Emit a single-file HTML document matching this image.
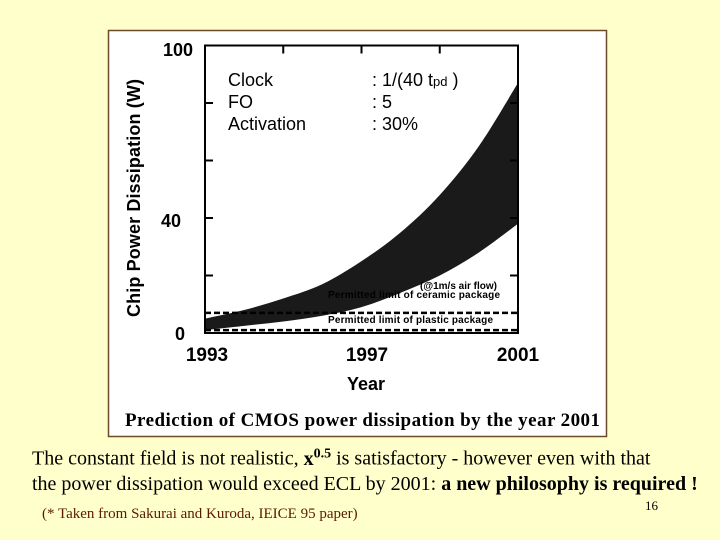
<!DOCTYPE html>
<html><head><meta charset="utf-8"><style>
body{margin:0;width:720px;height:540px;background:#ffffcc;position:relative;overflow:hidden;font-family:"Liberation Serif",serif}
.t{position:absolute;white-space:nowrap;color:#000}
</style></head><body>
<svg width="720" height="540" style="position:absolute;left:0;top:0" xmlns="http://www.w3.org/2000/svg">
<rect x="108.5" y="30.5" width="498" height="406" fill="#fff" stroke="#6b4a2a" stroke-width="1.5"/>
<g id="plot"></g>
<g font-family="Liberation Sans, sans-serif" font-weight="bold" fill="#000">
<text x="163" y="56" font-size="18">100</text>
<text x="161" y="227" font-size="18">40</text>
<text x="175" y="340" font-size="18">0</text>
<text x="207" y="361" font-size="19" text-anchor="middle">1993</text>
<text x="367" y="361" font-size="19" text-anchor="middle">1997</text>
<text x="518" y="361" font-size="19" text-anchor="middle">2001</text>
<text x="366" y="390" font-size="18" text-anchor="middle">Year</text>
<text transform="translate(140,198) rotate(-90)" font-size="18" text-anchor="middle" textLength="238">Chip Power Dissipation (W)</text>
<g font-weight="normal">
<text x="228" y="86" font-size="18">Clock</text>
<text x="228" y="108" font-size="18">FO</text>
<text x="228" y="130" font-size="18">Activation</text>
<text x="372" y="86" font-size="18">: 1/(40 t<tspan font-size="13">pd</tspan>    )</text>
<text x="372" y="108" font-size="18">: 5</text>
<text x="372" y="130" font-size="18">: 30%</text>
</g>
<text x="420" y="289" font-size="10">(@1m/s air flow)</text>
<text x="328" y="298" font-size="10" textLength="172">Permitted limit of ceramic package</text>
<text x="328" y="323" font-size="10" textLength="165">Permitted limit of plastic package</text>
</g>
<text x="125" y="426" font-size="19" font-family="Liberation Serif, serif" font-weight="bold" textLength="475">Prediction of CMOS power dissipation by the year 2001</text>
</svg>
<div class="t" style="left:32px;top:446px;font-size:20px">The constant field is not realistic, <b>x<sup style="font-size:14px">0.5</sup></b> is satisfactory - however even with that</div>
<div class="t" style="left:32px;top:473px;font-size:20px">the power dissipation would exceed ECL by 2001: <b>a new philosophy is required !</b></div>
<div class="t" style="left:42px;top:506px;font-size:15px;color:#5a1a00">(* Taken from Sakurai and Kuroda, IEICE 95 paper)</div>
<div class="t" style="left:645px;top:498px;font-size:13px">16</div>
<script>
const years=[1993,1994,1995,1996,1997,1998,1999,2000,2001];
const upperW=[5,8,12,17,25,35,48,65,87];
const lowerW=[1,2.5,4,6,9,14,20,28,38];
const limitLevels=[7,1];
const yTicks=[0,20,40,60,80,100];
const xTopTicks=[1995,1997,1999];
const X0=205,X1=518,Y0=333,Y1=45.5;
const sx=v=>X0+(v-1993)/(2001-1993)*(X1-X0);
const sy=v=>Y0-v/100*(Y0-Y1);
const NS="http://www.w3.org/2000/svg";
const g=document.getElementById('plot');
function mk(t,a){const e=document.createElementNS(NS,t);for(const k in a)e.setAttribute(k,a[k]);g.appendChild(e);return e;}
function smooth(pts,start){let d=start?("M"+pts[0][0]+","+pts[0][1]):(" L"+pts[0][0]+","+pts[0][1]);
for(let i=0;i<pts.length-1;i++){const p0=pts[Math.max(i-1,0)],p1=pts[i],p2=pts[i+1],p3=pts[Math.min(i+2,pts.length-1)];
d+=" C"+(p1[0]+(p2[0]-p0[0])/6)+","+(p1[1]+(p2[1]-p0[1])/6)+" "+(p2[0]-(p3[0]-p1[0])/6)+","+(p2[1]-(p3[1]-p1[1])/6)+" "+p2[0]+","+p2[1];}
return d;}
const up=years.map((y,i)=>[sx(y),sy(upperW[i])]);
const lo=years.map((y,i)=>[sx(y),sy(lowerW[i])]).reverse();
const band=mk('path',{d:smooth(up,true)+smooth(lo,false)+"Z",fill:"#1a1a1a"});


limitLevels.forEach((v,i)=>{const l=mk('line',{x1:X0,x2:X1,y1:sy(v),y2:sy(v),stroke:"#000","stroke-width":2.5,"stroke-dasharray":"6,3"});

});
const fr=mk('rect',{x:X0,y:Y1,width:X1-X0,height:Y0-Y1,fill:"none",stroke:"#000","stroke-width":2});


yTicks.forEach(v=>{const t=mk('line',{x1:X0,x2:X0+8,y1:sy(v),y2:sy(v),stroke:"#000","stroke-width":2});


const r=mk('line',{x1:X1-8,x2:X1,y1:sy(v),y2:sy(v),stroke:"#000","stroke-width":2});

});
xTopTicks.forEach(v=>{const t=mk('line',{x1:sx(v),x2:sx(v),y1:Y1,y2:Y1+8,stroke:"#000","stroke-width":2});

});
</script>
</body></html>
